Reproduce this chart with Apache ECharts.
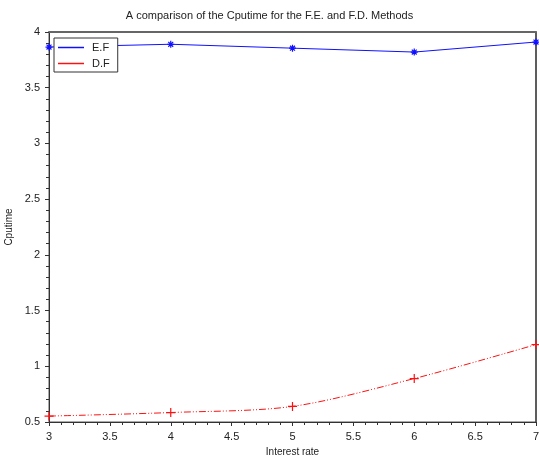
<!DOCTYPE html>
<html>
<head>
<meta charset="utf-8">
<script src="https://cdn.jsdelivr.net/npm/echarts@6/dist/echarts.min.js"></script>
<style>
  html, body { margin: 0; padding: 0; background: #fff; }
  #chart { width: 539px; height: 457px; }
</style>
</head>
<body>
<div id="chart"></div>
<script>
// interest rate values
var rates = [3, 4, 5, 6, 7];
// cputime, F.E. method
var efTimes = [3.865, 3.89, 3.855, 3.82, 3.91];
// cputime, F.D. method
var dfTimes = [0.553, 0.585, 0.64, 0.89, 1.195];

var chart = echarts.init(document.getElementById('chart'));

var plusPath = 'path://M0,5L10,5M5,0L5,10';
var starPath = 'path://M0,5L10,5M5,0L5,10M1.5,1.5L8.5,8.5M8.5,1.5L1.5,8.5';

function pairs(xs, ys) {
    return xs.map(function (x, i) { return [x, ys[i]]; });
}

var axisTxt = { color: '#222', fontSize: 11, fontFamily: 'Liberation Sans' };

var option = {
    animation: false,
    title: {
        text: 'A comparison of the Cputime for the F.E. and F.D. Methods',
        left: 'center',
        top: 5,
        textStyle: { fontSize: 11, fontWeight: 'normal', color: '#222', fontFamily: 'Liberation Sans' }
    },
    legend: {
        left: 54,
        top: 38,
        orient: 'vertical',
        itemWidth: 26,
        itemHeight: 1.5,
        itemGap: 5,
        padding: [4, 8, 3, 4],
        borderColor: '#333',
        borderWidth: 1,
        backgroundColor: '#fff',
        icon: 'rect',
        itemStyle: { borderWidth: 0 },
        textStyle: { fontSize: 11, lineHeight: 10, color: '#222', fontFamily: 'Liberation Sans', padding: [0, 0, 0, 3] },
        data: [
            { name: 'E.F', itemStyle: { color: '#1010ff' } },
            { name: 'D.F', itemStyle: { color: '#ff1010' } }
        ]
    },
    grid: { left: 49, right: 3, top: 32, bottom: 35, outerBoundsMode: 'none', show: true, borderColor: '#555', borderWidth: 1 },
    xAxis: [{
        type: 'value',
        min: 3, max: 7, interval: 0.5,
        name: 'Interest rate',
        nameLocation: 'middle',
        nameGap: 25,
        nameTextStyle: { fontSize: 10, color: '#222', fontFamily: 'Liberation Sans' },
        axisLine: { lineStyle: { color: '#333' } },
        axisTick: { length: 4, lineStyle: { color: '#333' } },
        minorTick: { show: true, splitNumber: 5, length: 3, lineStyle: { color: '#333' } },
        splitLine: { show: false },
        axisLabel: Object.assign({ margin: 9 }, axisTxt)
    }, {
        type: 'value', position: 'top', min: 3, max: 7,
        axisLine: { show: true, lineStyle: { color: '#666', width: 2 } },
        axisTick: { show: false }, axisLabel: { show: false }, splitLine: { show: false }
    }],
    yAxis: [{
        type: 'value',
        min: 0.5, max: 4, interval: 0.5,
        name: 'Cputime',
        nameLocation: 'middle',
        nameGap: 28,
        nameTextStyle: { fontSize: 10, color: '#222', fontFamily: 'Liberation Sans' },
        axisLine: { show: true, lineStyle: { color: '#333' } },
        axisTick: { show: true, length: 4, lineStyle: { color: '#333' } },
        minorTick: { show: true, splitNumber: 5, length: 3, lineStyle: { color: '#333' } },
        splitLine: { show: false },
        axisLabel: Object.assign({ margin: 9 }, axisTxt)
    }, {
        type: 'value', position: 'right', min: 0.5, max: 4,
        axisLine: { show: true, lineStyle: { color: '#444', width: 1.5 } },
        axisTick: { show: false }, axisLabel: { show: false }, splitLine: { show: false }
    }],
    series: [{
        name: 'E.F',
        type: 'line',
        data: pairs(rates, efTimes),
        color: '#1010ff',
        symbol: starPath,
        symbolSize: 7,
        lineStyle: { width: 1, color: '#1010ff' },
        itemStyle: { color: 'none', borderColor: '#1010ff', borderWidth: 1.2 },
        z: 3
    }, {
        name: 'D.F',
        type: 'line',
        smooth: 0.3,
        data: pairs(rates, dfTimes),
        color: '#ff1010',
        symbol: plusPath,
        symbolSize: 9,
        lineStyle: { width: 1, color: '#ff1010', type: [7, 2, 1, 2, 1, 2] },
        itemStyle: { color: 'none', borderColor: '#ff1010', borderWidth: 1.2 },
        z: 3
    }]
};

chart.setOption(option);
</script>
</body>
</html>
